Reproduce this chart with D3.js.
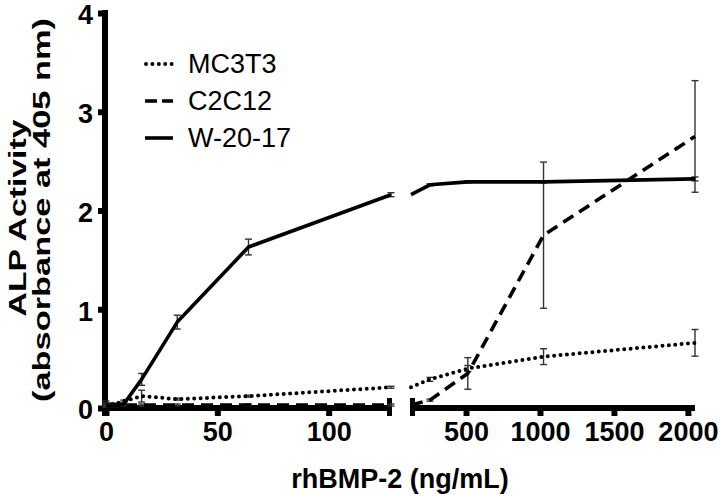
<!DOCTYPE html>
<html><head><meta charset="utf-8">
<script src="https://cdn.jsdelivr.net/npm/d3@7"></script>
<style>body{margin:0;background:#fff}svg{display:block}</style>
</head><body>
<svg id="c" width="720" height="496"></svg>
<script>
// ---- data ----
const doses = [0, 2, 4, 8, 16, 32, 64, 128, 256, 512, 1024, 2048];
const seriesNames = ["MC3T3", "C2C12", "W-20-17"];
const mc3t3    = [0.05, 0.04, 0.04, 0.07, 0.12, 0.09, 0.12, 0.21, 0.29, 0.40, 0.52, 0.66];
const mc3t3Err = [0.02, 0.01, 0.01, 0.01, 0.06, 0.01, 0.01, 0.01, 0.02, 0.03, 0.08, 0.135];
const c2c12    = [0.03, 0.03, 0.03, 0.03, 0.03, 0.03, 0.03, 0.03, 0.08, 0.35, 1.75, 2.75];
const c2c12Err = [0.02, 0.01, 0.01, 0.01, 0.01, 0.01, 0.01, 0.01, 0.01, 0.16, 0.74, 0.565];
const w2017    = [0.02, 0.02, 0.02, 0.04, 0.29, 0.87, 1.63, 2.16, 2.26, 2.29, 2.29, 2.32];
const w2017Err = [0.01, 0.01, 0.01, 0.01, 0.06, 0.07, 0.08, 0.02, 0.01, 0.01, 0.01, 0.02];
const leftTicks = [0, 50, 100];
const rightTicks = [500, 1000, 1500, 2000];
const yTicks = [0, 1, 2, 3, 4];
const xTitle = "rhBMP-2 (ng/mL)";
const yTitle1 = "ALP Activity";
const yTitle2 = "(absorbance at 405 nm)";

// ---- layout ----
const FONT = "'Liberation Sans', Arial, Helvetica, sans-serif";
const svg = d3.select("#c");
const y = d3.scaleLinear().domain([0, 4]).range([408, 13]);
const xL = d3.scaleLinear().domain([0, 128]).range([106, 391]);
const xR = d3.scaleLinear().domain([128, 2048]).range([411, 695]);

const series = [
  {name: seriesNames[0], vals: mc3t3, err: mc3t3Err, dash: "0,6.4", cap: "round"},
  {name: seriesNames[1], vals: c2c12, err: c2c12Err, dash: "12,7", cap: "butt"},
  {name: seriesNames[2], vals: w2017, err: w2017Err, dash: null, cap: "butt"}
];

const defs = svg.append("defs");
defs.append("clipPath").attr("id", "clipL").append("rect")
  .attr("x", 100).attr("y", 0).attr("width", 295).attr("height", 420);
defs.append("clipPath").attr("id", "clipR").append("rect")
  .attr("x", 409).attr("y", 0).attr("width", 300).attr("height", 420);

const segments = [
  {x: xL, clip: "clipL", keep: d => d <= 128, errKeep: d => d <= 128},
  {x: xR, clip: "clipR", keep: d => d >= 128, errKeep: d => d > 128}
];

// ---- axes (drawn under data) ----
const axG = svg.append("g");
axG.append("line").attr("x1", xL(0) - 4).attr("x2", xL.range()[1])
  .attr("y1", y(0)).attr("y2", y(0)).attr("stroke", "#000").attr("stroke-width", 6);
axG.append("line").attr("x1", xR.range()[0]).attr("x2", xR.range()[1])
  .attr("y1", y(0)).attr("y2", y(0)).attr("stroke", "#000").attr("stroke-width", 6);
[xL.range()[1] - 1.5, xR.range()[0] + 1.5].forEach(px => {
  axG.append("line").attr("x1", px).attr("x2", px).attr("y1", y(0) - 10).attr("y2", y(0) + 8)
    .attr("stroke", "#000").attr("stroke-width", 5);
});
axG.append("line").attr("x1", 105).attr("x2", 105).attr("y1", y(4) - 3).attr("y2", y(0) + 8)
  .attr("stroke", "#000").attr("stroke-width", 6);

function styleAxis(g) {
  g.select(".domain").remove();
  g.selectAll(".tick line").attr("stroke", "#000").attr("stroke-width", 6);
  g.selectAll(".tick text").attr("fill", "#000").attr("font-family", FONT)
    .attr("font-weight", "bold").attr("font-size", 27);
}
axG.append("g").attr("transform", `translate(0,${y(0)})`)
  .call(d3.axisBottom(xL).tickValues(leftTicks).tickFormat(d3.format("d")).tickSize(8).tickPadding(6))
  .call(styleAxis);
axG.append("g").attr("transform", `translate(0,${y(0)})`)
  .call(d3.axisBottom(xR).tickValues(rightTicks).tickFormat(d3.format("d")).tickSize(8).tickPadding(6))
  .call(styleAxis);
axG.append("g").attr("transform", `translate(105,0)`)
  .call(d3.axisLeft(y).tickValues(yTicks).tickFormat(d3.format("d")).tickSize(7).tickPadding(5))
  .call(styleAxis)
  .call(g => g.selectAll(".tick text").attr("dy", "0.40em"));

// ---- data lines & error bars ----
segments.forEach(seg => {
  const g = svg.append("g").attr("clip-path", `url(#${seg.clip})`);
  series.forEach(s => {
    const pts = doses.map((d, i) => ({d, v: s.vals[i], e: s.err[i]}));
    const linePts = pts.filter(p => seg.keep(p.d));
    const line = d3.line().x(p => seg.x(p.d)).y(p => y(p.v));
    pts.filter(p => seg.errKeep(p.d) && p.e > 0).forEach(p => {
      const cx = seg.x(p.d), y1 = y(p.v + p.e), y2 = y(p.v - p.e);
      g.append("line").attr("x1", cx).attr("x2", cx).attr("y1", y1).attr("y2", y2)
        .attr("stroke", "#333").attr("stroke-width", 1.4);
      [y1, y2].forEach(yy => g.append("line").attr("x1", cx - 3.5).attr("x2", cx + 3.5)
        .attr("y1", yy).attr("y2", yy).attr("stroke", "#333").attr("stroke-width", 1.4));
    });
    g.append("path").datum(linePts).attr("d", line).attr("fill", "none")
      .attr("stroke", "#000").attr("stroke-width", s.cap === "round" ? 4 : 3.6)
      .attr("stroke-dasharray", s.dash).attr("stroke-linecap", s.cap)
      .attr("stroke-linejoin", "round");
  });
});

// ---- legend ----
const leg = svg.append("g");
series.forEach((s, i) => {
  const ly = 64 + i * 37;
  leg.append("line").attr("x1", s.cap === "round" ? 146 : 145).attr("x2", 173)
    .attr("y1", ly).attr("y2", ly).attr("stroke", "#000")
    .attr("stroke-width", s.cap === "round" ? 4 : 3.6)
    .attr("stroke-dasharray", s.dash === "12,7" ? "12,5" : s.dash).attr("stroke-linecap", s.cap);
  leg.append("text").attr("x", 188).attr("y", ly + 9).text(s.name)
    .attr("font-family", FONT).attr("font-size", 27).attr("fill", "#000");
});

// ---- titles ----
svg.append("text").attr("x", 400).attr("y", 488).attr("text-anchor", "middle")
  .attr("font-family", FONT).attr("font-weight", "bold").attr("font-size", 27)
  .text(xTitle);
svg.append("text").attr("transform", "translate(26,218) rotate(-90)")
  .attr("text-anchor", "middle").attr("font-family", FONT).attr("font-weight", "bold")
  .attr("font-size", 23).attr("textLength", 197).attr("lengthAdjust", "spacingAndGlyphs")
  .text(yTitle1);
svg.append("text").attr("transform", "translate(50,210) rotate(-90)")
  .attr("text-anchor", "middle").attr("font-family", FONT).attr("font-weight", "bold")
  .attr("font-size", 23).attr("textLength", 384).attr("lengthAdjust", "spacingAndGlyphs")
  .text(yTitle2);
</script>
</body></html>
